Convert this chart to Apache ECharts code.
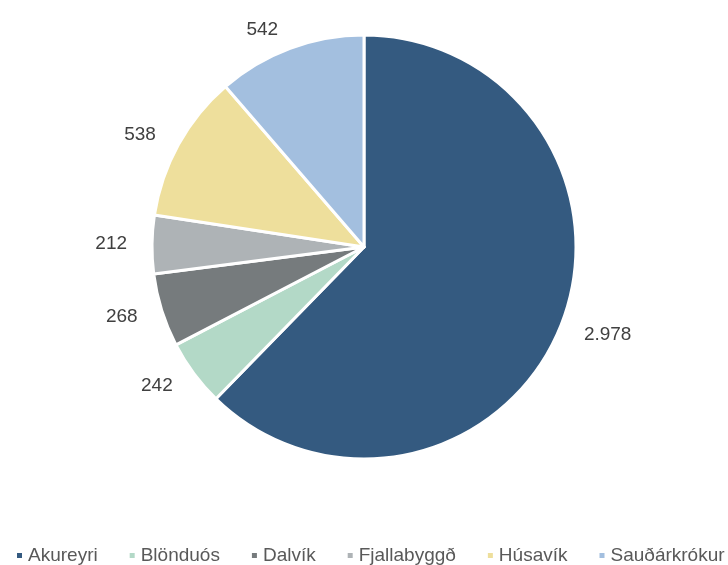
<!DOCTYPE html>
<html>
<head>
<meta charset="utf-8">
<script src="https://cdn.jsdelivr.net/npm/echarts@6/dist/echarts.min.js"></script>
<style>
  html, body { margin: 0; padding: 0; background: #fff; }
  #chart { width: 728px; height: 565px; }
</style>
</head>
<body>
<div id="chart"></div>
<script>
const towns = ['Akureyri', 'Blönduós', 'Dalvík', 'Fjallabyggð', 'Húsavík', 'Sauðárkrókur']
const values = [2978, 242, 268, 212, 538, 542]
const colors = ['#345a80', '#b3d9c7', '#767b7d', '#aeb3b6', '#eedf9c', '#a3bfdf']

const chart = echarts.init(document.getElementById('chart'))

chart.setOption({
  animation: false,
  color: colors,
  textStyle: { fontFamily: 'Liberation Sans' },
  legend: {
    data: towns,
    top: 541,
    left: 10,
    width: 900,
    icon: 'rect',
    itemWidth: 7,
    itemHeight: 7,
    itemGap: 30,
    textStyle: { color: '#595959', fontSize: 19 }
  },
  series: [
    {
      type: 'pie',
      center: [364, 247],
      radius: [0, 212],
      startAngle: 90,
      clockwise: true,
      data: towns.map((name, i) => ({ name, value: values[i] })),
      itemStyle: { borderColor: '#fff', borderWidth: 3 },
      label: {
        show: true,
        position: 'outside',
        color: '#404040',
        fontSize: 19,
        formatter: p => p.value.toLocaleString('de-DE')
      },
      labelLine: { show: false, length: 20, length2: 0 },
      emphasis: { disabled: true }
    }
  ]
})
</script>
</body>
</html>
